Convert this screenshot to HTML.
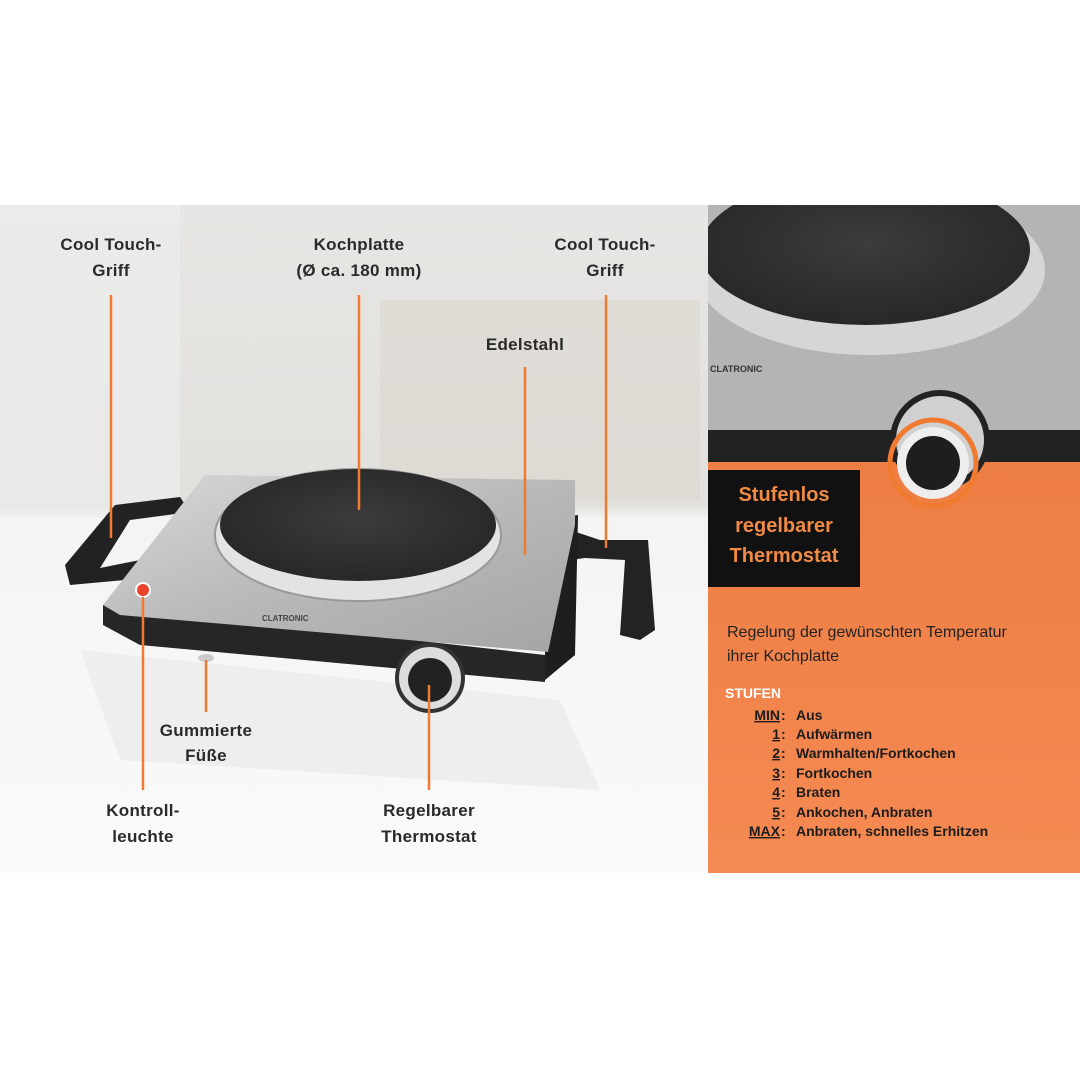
<!DOCTYPE html>
<html><head><meta charset="utf-8"><style>
html,body{margin:0;padding:0;background:#fff;}
svg{display:block;font-family:"Liberation Sans",sans-serif;}
</style></head><body>
<svg width="1080" height="1080" viewBox="0 0 1080 1080" xmlns="http://www.w3.org/2000/svg">
<defs>
<linearGradient id="bg" x1="0" y1="0" x2="0" y2="1">
<stop offset="0" stop-color="#e6e6e4"/><stop offset="0.45" stop-color="#e2e0dc"/><stop offset="0.47" stop-color="#f4f4f4"/><stop offset="1" stop-color="#fafafa"/></linearGradient>
<linearGradient id="steel" x1="0" y1="0" x2="1" y2="1">
<stop offset="0" stop-color="#d8d8d8"/><stop offset="0.5" stop-color="#b9b9b9"/><stop offset="1" stop-color="#a4a4a4"/></linearGradient>
<linearGradient id="or" x1="0" y1="0" x2="0" y2="1">
<stop offset="0" stop-color="#e8763a"/><stop offset="1" stop-color="#f58a52"/></linearGradient>
<radialGradient id="hp" cx="0.5" cy="0.45" r="0.6"><stop offset="0" stop-color="#3c3c3c"/><stop offset="1" stop-color="#262626"/></radialGradient>
<clipPath id="rc"><rect x="708" y="205" width="372" height="668"/></clipPath>
<clipPath id="lc"><rect x="0" y="205" width="708" height="668"/></clipPath>
</defs>
<rect width="1080" height="1080" fill="#fff"/>
<!-- left photo -->
<g clip-path="url(#lc)">
<rect x="0" y="205" width="708" height="668" fill="url(#bg)"/>
<rect x="0" y="205" width="180" height="310" fill="#ececec" opacity="0.7"/>
<rect x="380" y="300" width="320" height="200" fill="#d9d4cc" opacity="0.5"/>
<path d="M80 650 L560 700 L600 790 L120 760 Z" fill="#eeeeee"/>
<!-- handles -->
<path d="M180 497 L115 505 L65 565 L70 585 L125 580 L140 560 L100 568 L130 520 L190 512 Z" fill="#222"/>
<path d="M570 530 L600 540 L648 540 L655 630 L640 640 L620 635 L625 560 L585 558 L570 560 Z" fill="#232323"/>
<!-- base -->
<path d="M103 605 L103 625 L140 645 L545 682 L545 655 Z" fill="#262626"/>
<path d="M545 520 L578 515 L575 655 L545 680 Z" fill="#1e1e1e"/>
<path d="M205 475 L575 480 L575 525 L548 652 L120 615 L103 605 Z" fill="url(#steel)"/>
<ellipse cx="358" cy="535" rx="143" ry="66" fill="#e3e3e3" stroke="#999" stroke-width="2"/>
<ellipse cx="358" cy="525" rx="138" ry="56" fill="url(#hp)"/>
<circle cx="143" cy="590" r="7" fill="#e8442c" stroke="#fff" stroke-width="2"/>
<text x="262" y="621" font-size="8" fill="#444" font-weight="bold">CLATRONIC</text>
<ellipse cx="206" cy="658" rx="8" ry="4" fill="#ccc"/>
<circle cx="430" cy="678" r="33" fill="#ddd" stroke="#333" stroke-width="4"/>
<circle cx="430" cy="680" r="22" fill="#222"/>
</g>
<g stroke="#f07a30" stroke-width="2.5">
<line x1="111" y1="295" x2="111" y2="538"/>
<line x1="359" y1="295" x2="359" y2="510"/>
<line x1="525" y1="367" x2="525" y2="555"/>
<line x1="606" y1="295" x2="606" y2="548"/>
<line x1="206" y1="660" x2="206" y2="712"/>
<line x1="143" y1="597" x2="143" y2="790"/>
<line x1="429" y1="685" x2="429" y2="790"/>
</g>
<g font-size="17" fill="#2a2a2a" text-anchor="middle" font-weight="bold" letter-spacing="0.3">
<text x="111" y="250">Cool Touch-</text><text x="111" y="276">Griff</text>
<text x="359" y="250">Kochplatte</text><text x="359" y="276">(Ø ca. 180 mm)</text>
<text x="605" y="250">Cool Touch-</text><text x="605" y="276">Griff</text>
<text x="525" y="350">Edelstahl</text>
<text x="206" y="736">Gummierte</text><text x="206" y="761">Füße</text>
<text x="143" y="816">Kontroll-</text><text x="143" y="842">leuchte</text>
<text x="429" y="816">Regelbarer</text><text x="429" y="842">Thermostat</text>
</g>
<!-- right panel -->
<g clip-path="url(#rc)">
<rect x="708" y="205" width="372" height="668" fill="url(#or)"/>
<rect x="708" y="205" width="372" height="240" fill="#b4b4b4"/>
<rect x="708" y="430" width="372" height="32" fill="#222"/>
<ellipse cx="870" cy="270" rx="175" ry="85" fill="#d6d6d6"/>
<ellipse cx="865" cy="250" rx="165" ry="75" fill="url(#hp)"/>
<text x="710" y="372" font-size="9" fill="#333" font-weight="bold">CLATRONIC</text>
<circle cx="940" cy="440" r="47" fill="#d0d0d0" stroke="#222" stroke-width="6"/>
<circle cx="933" cy="463" r="43" fill="none" stroke="#f07a30" stroke-width="5"/>
<circle cx="933" cy="463" r="36" fill="#eee"/>
<circle cx="933" cy="463" r="27" fill="#1e1e1e"/>
</g>
<rect x="708" y="470" width="152" height="117" fill="#111"/>
<g font-size="20" fill="#f08a44" text-anchor="middle" font-weight="bold">
<text x="784" y="501">Stufenlos</text><text x="784" y="532">regelbarer</text><text x="784" y="562">Thermostat</text>
</g>
<g font-size="16" fill="#222">
<text x="727" y="637">Regelung der gewünschten Temperatur</text>
<text x="727" y="661">ihrer Kochplatte</text>
</g>
<text x="725" y="698" font-size="14" fill="#fff" font-weight="bold">STUFEN</text>
<g font-size="14" fill="#1c1c1c" font-weight="bold">
<g text-anchor="end" text-decoration="underline">
<text x="780" y="720">MIN</text><text x="780" y="739">1</text><text x="780" y="758">2</text><text x="780" y="778">3</text><text x="780" y="797">4</text><text x="780" y="817">5</text><text x="780" y="836">MAX</text>
</g>
<g><text x="781" y="720">:</text><text x="781" y="739">:</text><text x="781" y="758">:</text><text x="781" y="778">:</text><text x="781" y="797">:</text><text x="781" y="817">:</text><text x="781" y="836">:</text></g>
<text x="796" y="720">Aus</text><text x="796" y="739">Aufwärmen</text><text x="796" y="758">Warmhalten/Fortkochen</text><text x="796" y="778">Fortkochen</text><text x="796" y="797">Braten</text><text x="796" y="817">Ankochen, Anbraten</text><text x="796" y="836">Anbraten, schnelles Erhitzen</text>
</g>
</svg>
</body></html>
